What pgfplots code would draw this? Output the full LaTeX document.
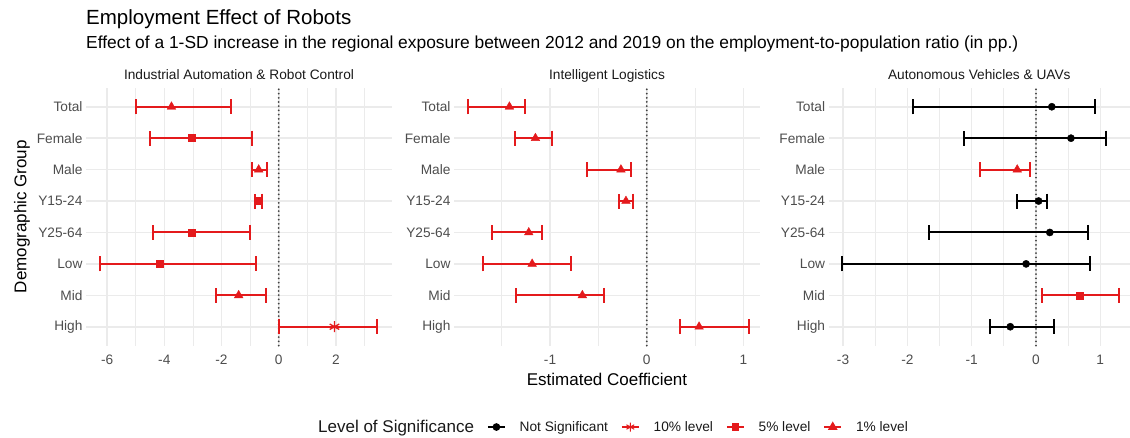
\documentclass[border=0pt]{standalone}
\usepackage{pgfplots}
\pgfplotsset{compat=1.18}
\usepackage{fontspec}
\setmainfont{Liberation Sans}
\definecolor{sigred}{RGB}{228,26,28}
\definecolor{axtext}{HTML}{4D4D4D}
\definecolor{gridc}{HTML}{EBEBEB}
\newcommand{\fs}[1]{\fontsize{#1}{#1}\selectfont}

\pgfplotsset{
  facet/.style={
    scale only axis, width=306pt, height=257.7pt,
    anchor=south west,
    ymin=0.4, ymax=8.6, ytick={1,...,8},
    yticklabels={High,Mid,Low,Y25-64,Y15-24,Male,Female,Total},
    axis line style={draw=none},
    major tick length=0pt, minor tick length=0pt,
    xmajorgrids, xminorgrids, ymajorgrids,
    major grid style={gridc, line width=1.6pt},
    minor grid style={gridc, line width=0.8pt},
    tick label style={font=\fs{13.7}, text=axtext},
    /pgf/number format/assume math mode=true,
    xticklabel style={yshift=-6pt},
    title style={font=\fs{13.7}, text=black!90, anchor=base, at={(0.5,1)}, yshift=2pt},
    clip=false,
  },
  ns/.style={black, mark=*, mark size=3.6pt},
  p10/.style={sigred, mark=asterisk, mark size=5.5pt, mark options={line width=1.3pt}},
  p05/.style={sigred, mark=square*, mark size=3.5pt},
  p01/.style={sigred, mark=triangle*, mark size=5pt},
  est/.style={only marks, forget plot,
    error bars/x dir=both, error bars/x explicit,
    error bars/error mark=|,
    error bars/error bar style={line width=2pt},
    error bars/error mark options={line width=2pt, mark size=7.5pt}},
  zero/.style={forget plot, color=black!75, line width=2pt, dash pattern=on 0pt off 4.2pt, line cap=round},
  table/tab/.style={x=e, y=p, x error plus expr=\thisrow{h}-\thisrow{e}, x error minus expr=\thisrow{e}-\thisrow{l}},
}

\begin{document}
\begin{tikzpicture}
\path[use as bounding box] (0,0) rectangle (1130pt,438pt);

% ---------- Panel 1 ----------
\begin{axis}[facet, at={(86pt,92.4pt)},
  xmin=-6.738, xmax=3.961,
  xtick={-6,-4,-2,0,2}, xticklabels={-6,-4,-2,0,2},
  minor xtick={-5,-3,-1,1,3},
  title={Industrial Automation \& Robot Control}]
\addplot[zero] coordinates {(0,0.4) (0,8.6)};
% 1% level
\addplot[p01, est] table[tab] {
p e l h
8 -3.75 -5.00 -1.68
6 -0.70 -0.92 -0.42
2 -1.40 -2.20 -0.45
};
% 5% level
\addplot[p05, est] table[tab] {
p e l h
7 -3.05 -4.50 -0.92
5 -0.70 -0.82 -0.58
4 -3.05 -4.40 -1.00
3 -4.15 -6.25 -0.80
};
% 10% level
\addplot[p10, est] table[tab] {
p e l h
1 1.95 0.00 3.45
};
\end{axis}

% ---------- Panel 2 ----------
\begin{axis}[facet, at={(454pt,92.4pt)},
  xmin=-1.993, xmax=1.171,
  xtick={-1,0,1}, xticklabels={-1,0,1},
  minor xtick={-1.5,-0.5,0.5},
  title={Intelligent Logistics},
  legend style={at={(0.5,-0.316)}, anchor=center, draw=none, fill=none,
    font=\fs{13.7}, text=black!90, legend columns=-1,
    /tikz/every odd column/.append style={column sep=12pt},
    /tikz/every even column/.append style={column sep=11pt}},
  legend image code/.code={\draw[mark repeat=2, mark phase=2, #1] plot coordinates {(0pt,0pt) (8.5pt,0pt) (17pt,0pt)};}]
\addplot[zero] coordinates {(0,0.4) (0,8.6)};
\addplot[p01, est] table[tab] {
p e l h
8 -1.420 -1.851 -1.262
7 -1.151 -1.359 -0.977
6 -0.267 -0.613 -0.163
5 -0.215 -0.284 -0.139
4 -1.220 -1.601 -1.088
3 -1.185 -1.695 -0.780
2 -0.666 -1.348 -0.437
1  0.541  0.347  1.061
};
\addlegendimage{empty legend}
\addlegendentry{\fs{17}Level of Significance}
\addlegendimage{black, mark=*, mark size=3pt, line width=1.6pt}
\addlegendentry{Not Significant}
\addlegendimage{sigred, mark=asterisk, mark size=4.5pt, line width=1.6pt, mark options={line width=1pt}}
\addlegendentry{10\% level}
\addlegendimage{sigred, mark=square*, mark size=3pt, line width=1.6pt}
\addlegendentry{5\% level}
\addlegendimage{sigred, mark=triangle*, mark size=4pt, line width=1.6pt}
\addlegendentry{1\% level}
\end{axis}

% ---------- Panel 3 ----------
\begin{axis}[facet, width=301.4pt, at={(828.6pt,92.4pt)},
  xmin=-3.225, xmax=1.462,
  xtick={-3,-2,-1,0,1}, xticklabels={-3,-2,-1,0,1},
  minor xtick={-2.5,-1.5,-0.5,0.5},
  title={Autonomous Vehicles \& UAVs}]
\addplot[zero] coordinates {(0,0.4) (0,8.6)};
\addplot[ns, est] table[tab] {
p e l h
8  0.246 -1.908 0.923
7  0.544 -1.118 1.092
5  0.041 -0.292 0.169
4  0.215 -1.662 0.805
3 -0.154 -3.010 0.836
1 -0.400 -0.718 0.282
};
\addplot[p01, est] table[tab] {
p e l h
6 -0.292 -0.872 -0.092
};
\addplot[p05, est] table[tab] {
p e l h
2 0.682 0.092 1.292
};
\end{axis}

% ---------- Titles and axis titles ----------
\node[anchor=base west, inner sep=0pt, font=\fs{20.5}] at (86pt,413pt) {Employment Effect of Robots};
\node[anchor=base west, inner sep=0pt, font=\fs{17.4}] at (86pt,389pt) {Effect of a 1-SD increase in the regional exposure between 2012 and 2019 on the employment-to-population ratio (in pp.)};
\node[font=\fs{17}] at (607pt,59pt) {Estimated Coefficient};
\node[font=\fs{17}, rotate=90] at (22pt,221.3pt) {Demographic Group};
\end{tikzpicture}
\end{document}
